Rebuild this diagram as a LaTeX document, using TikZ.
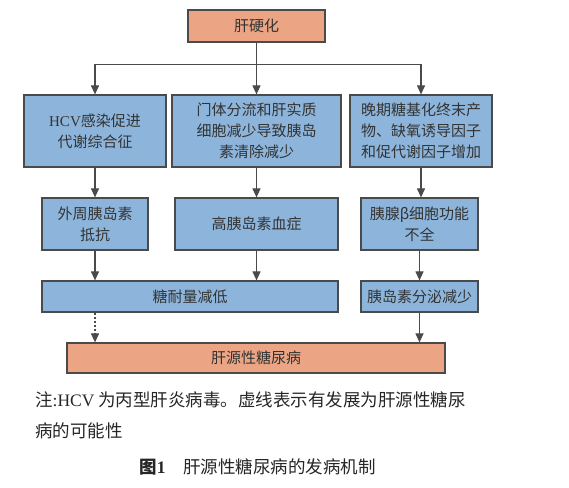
\documentclass[tikz,border=0pt]{standalone}
\usepackage{fontspec}
\setmainfont{Noto Sans CJK SC}
\newfontfamily\latinfont{Liberation Serif}
\usepackage{xcolor}
\definecolor{cirorange}{HTML}{EBA584}
\definecolor{cirblue}{HTML}{8DB5DB}
\definecolor{cirline}{HTML}{4A4A4A}
\usepackage{tikz}
\usetikzlibrary{positioning,arrows.meta,calc}

\begin{document}
\begin{tikzpicture}[
  x=1pt, y=-1pt,
  box/.style={draw=cirline, line width=1.2pt, inner sep=0pt, text=black!80,
              font=\fontsize{15}{21}\selectfont, align=center},
  bluebox/.style={box, fill=cirblue},
  orangebox/.style={box, fill=cirorange},
  link/.style={line width=1.1pt, cirline},
  arr/.style={link, -{Triangle[width=8pt,length=9pt]}},
]
  \useasboundingbox (0,0) rectangle (569,487);

  % cause
  \node[orangebox, minimum width=137pt, minimum height=32pt] (cirrhosis) at (256.5,26) {肝硬化};

  % first level mechanisms
  \node[bluebox, minimum width=142pt, minimum height=72pt] (hcv) at (95,131)
    {{\latinfont HCV}感染促进\\代谢综合征};
  \node[bluebox, minimum width=169pt, minimum height=72pt] (shunt) at (256.5,131)
    {门体分流和肝实质\\细胞减少导致胰岛\\素清除减少};
  \node[bluebox, minimum width=142pt, minimum height=72pt] (age) at (421,131)
    {晚期糖基化终末产\\物、缺氧诱导因子\\和促代谢因子增加};

  % second level
  \node[bluebox, minimum width=106pt, minimum height=52pt] (resist) at (95,224)
    {外周胰岛素\\抵抗};
  \node[bluebox, minimum width=163pt, minimum height=52pt] (hyper) at (256.5,224)
    {高胰岛素血症};
  \node[bluebox, minimum width=117pt, minimum height=52pt] (beta) at (419.5,224)
    {胰腺β细胞功能\\不全};

  % third level
  \node[bluebox, minimum width=296pt, minimum height=31pt] (igt) at (190,296.5)
    {糖耐量减低};
  \node[bluebox, minimum width=117pt, minimum height=31pt] (secret) at (419.5,296.5)
    {胰岛素分泌减少};

  % outcome
  \node[orangebox, minimum width=378pt, minimum height=30pt] (diabetes) at (256,358)
    {肝源性糖尿病};

  % Arrows
  \coordinate (split) at ($(cirrhosis.south)+(0,22)$);
  \draw[link] (cirrhosis.south) -- (split);
  \draw[arr] (split) -| (hcv.north);
  \draw[arr] (split) -- (shunt.north);
  \draw[arr] (split) -| (age.north);

  \draw[arr] (hcv.south) -- (resist.north);
  \draw[arr] (shunt.south) -- (hyper.north);
  \draw[arr] (age.south) -- (age.south |- beta.north);

  \draw[arr] (resist.south) -- (resist.south |- igt.north);
  \draw[arr] (hyper.south) -- (hyper.south |- igt.north);
  \draw[arr] (beta.south) -- (secret.north);

  \draw[arr, dash pattern=on 2pt off 2pt] (resist.south |- igt.south) -- (resist.south |- diabetes.north);
  \draw[arr] (secret.south) -- (secret.south |- diabetes.north);

  % note and caption
  \node[anchor=north west, inner sep=0pt, align=left, text=black!85,
        font=\fontsize{17.5}{31}\selectfont] (note) at (35,392)
    {注{\latinfont :HCV} 为丙型肝炎病毒。虚线表示有发展为肝源性糖尿\\病的可能性};
  \node[text=black!85, font=\fontsize{17.5}{21}\selectfont] (caption) at (257.5,467)
    {\textbf{图{\latinfont 1}}\quad 肝源性糖尿病的发病机制};
\end{tikzpicture}
\end{document}
